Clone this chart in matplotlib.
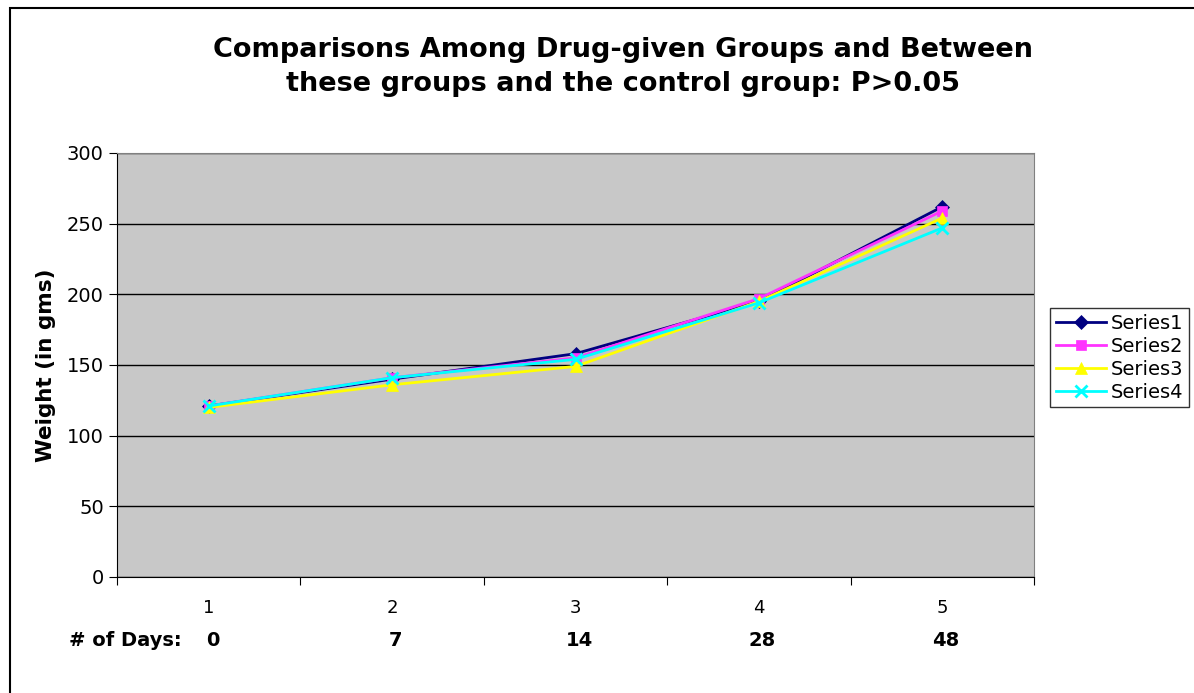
import matplotlib
matplotlib.use('Agg')
import matplotlib.pyplot as plt
from matplotlib.patches import Rectangle

# data
categories = [1, 2, 3, 4, 5]
days = ['0', '7', '14', '28', '48']
series1 = [121, 140, 158, 195, 262]
series2 = [121, 141, 155, 197, 259]
series3 = [120, 136, 149, 195, 254]
series4 = [121, 141, 154, 194, 247]
names = ['Series1', 'Series2', 'Series3', 'Series4']


def main():
    fig = plt.figure(figsize=(11.94, 6.93), dpi=100)
    W, H = 1194, 693
    ax = fig.add_axes([117 / W, 1 - 577 / H, (1034 - 117) / W, (577 - 153) / H])
    ax.set_facecolor('#C8C8C8')

    # outer chart border
    fig.patches.append(Rectangle((10 / W, -0.1), 1.2, 1 - 8 / H + 0.1,
                                 transform=fig.transFigure, fill=False,
                                 edgecolor='black', linewidth=1.5))

    styles = [
        ('#000080', 'D', 7),
        ('#FF33FF', 's', 7),
        ('#FFFF00', '^', 8),
        ('#00FFFF', 'x', 8),
    ]
    for vals, name, (c, m, ms) in zip([series1, series2, series3, series4], names, styles):
        ax.plot(categories, vals, color=c, marker=m, markersize=ms, linewidth=2,
                markeredgewidth=2 if m == 'x' else 0.5, markeredgecolor=c, label=name)

    ax.set_xlim(0.5, 5.5)
    ax.set_ylim(0, 300)
    ax.set_yticks(range(0, 301, 50))
    ax.yaxis.grid(True, color='black', linewidth=1)
    ax.set_axisbelow(True)
    ax.tick_params(axis='y', labelsize=14, direction='out', length=6, color='black')

    # x ticks at category boundaries, labels at centers
    ax.set_xticks([0.5, 1.5, 2.5, 3.5, 4.5, 5.5])
    ax.set_xticklabels([])
    ax.tick_params(axis='x', direction='out', length=6, color='black')
    for c, d in zip(categories, days):
        ax.text(c, -22, str(c), ha='center', va='center', fontsize=13,
                transform=ax.transData, clip_on=False)
        ax.text(c + 0.02, -45, d, ha='center', va='center', fontsize=14, fontweight='bold',
                transform=ax.transData, clip_on=False)
    fig.text(69 / W, 1 - 640 / H, '# of Days:', ha='left', va='center',
             fontsize=14, fontweight='bold')

    for s in ['top', 'right']:
        ax.spines[s].set_color('#808080')
    for s in ['left', 'bottom']:
        ax.spines[s].set_color('black')

    ax.set_ylabel('Weight (in gms)', fontsize=15.5, fontweight='bold', labelpad=8)

    fig.text(623 / W, 1 - 67 / H,
             'Comparisons Among Drug-given Groups and Between\nthese groups and the control group: P>0.05',
             ha='center', va='center', fontsize=19.5, fontweight='bold', linespacing=1.4)

    leg = fig.legend(loc='upper left', bbox_to_anchor=(1050 / W, 1 - 308 / H),
                     fontsize=14, frameon=True, fancybox=False, edgecolor='black',
                     borderpad=0.3, labelspacing=0.2, handlelength=2.6,
                     handletextpad=0.2, borderaxespad=0)
    leg.get_frame().set_linewidth(1)

    plt.savefig('out.png', dpi=100)


if __name__ == '__main__':
    main()
